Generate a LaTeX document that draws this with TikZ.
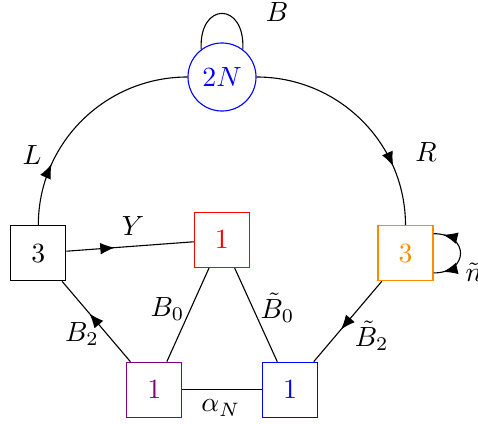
\documentclass[tikz,border=0pt]{standalone}
\usetikzlibrary{arrows.meta,decorations.markings}
\definecolor{vio}{rgb}{0.5,0,0.5}
\definecolor{orng}{rgb}{1,0.55,0}
\tikzset{mytip/.tip={Latex[length=5.2pt,width=4.2pt]}}
\begin{document}
\begin{tikzpicture}[x=0.36pt,y=-0.36pt,
  sq/.style={draw,minimum size=19.8pt,inner sep=0pt},
  lbl/.style={inner sep=0pt},
  midarr/.style={postaction={decorate},decoration={markings,mark=at position #1 with {\arrow{mytip}}}}]
\useasboundingbox (0,0) rectangle (478,424);
\node[draw=blue,circle,minimum size=24.5pt,inner sep=0pt,text=blue] (N) at (222,77) {$2N$};
\node[sq] (L3) at (38.3,253.3) {$3$};
\node[sq,draw=red,text=red] (R1) at (221.8,239.7) {$1$};
\node[sq,draw=orng,text=orng] (O3) at (405.5,253.3) {$3$};
\node[sq,draw=vio,text=vio] (P1) at (154.2,389.7) {$1$};
\node[sq,draw=blue,text=blue] (B1) at (290,389.7) {$1$};
% loop on 2N
\draw (N.127) .. controls +(-2.5,-48) and +(2.5,-48) .. (N.53);
% arcs
\draw[midarr=0.27] (L3.north) to[out=90,in=180] (N.west);
\draw[midarr=0.74] (N.east) to[out=0,in=90] (O3.north);
% edges
\draw[midarr=0.38] (L3) -- (R1);
\draw[midarr=0.6] (P1) -- (L3);
\draw[midarr=0.6] (O3) -- (B1);
\draw (R1) -- (P1);
\draw (R1) -- (B1);
\draw (P1) -- (B1);
% loop on orange
\draw[postaction={decorate},decoration={markings,
   mark=at position 0.13 with {\arrowreversed{mytip}},
   mark=at position 0.87 with {\arrow{mytip}}}]
  (O3.35) .. controls +(36,0) and +(36,0) .. (O3.-35);
% labels
\node[lbl] (lB) at (277,12) {$B$};
\node[lbl] (lL) at (32,155) {$L$};
\node[lbl] (lR) at (426,152) {$R$};
\node[lbl] (lY) at (133,226) {$Y$};
\node[lbl] (lB0) at (167.5,308.7) {$B_0$};
\node[lbl] (lBt0) at (277.5,308) {$\tilde B_0$};
\node[lbl] (lB2) at (82,334) {$B_2$};
\node[lbl] (lBt2) at (371.7,336) {$\tilde B_2$};
\node[lbl] (la) at (220.8,408) {$\alpha_N$};
\node[lbl,anchor=base west] (ln) at (465,281) {$\tilde n$};
\end{tikzpicture}
\end{document}
